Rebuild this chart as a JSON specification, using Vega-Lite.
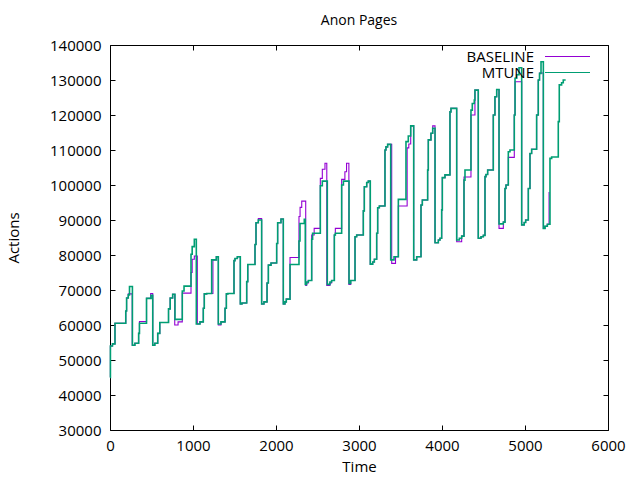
{
  "$schema": "https://vega.github.io/schema/vega-lite/v6.json",
  "width": 498,
  "height": 385,
  "autosize": {"type": "none"},
  "padding": {"left": 110, "top": 45, "right": 32, "bottom": 50},
  "background": "white",
  "config": {
    "font": "Open Sans",
    "view": {"stroke": "black", "strokeWidth": 1},
    "axis": {"grid": false, "domainColor": "black", "tickColor": "black", "labelColor": "black", "titleColor": "black", "labelFontSize": 15, "titleFontSize": 15, "titleFontWeight": "normal", "labelFont": "Open Sans", "titleFont": "Open Sans", "format": "d", "labelFlush": false}
  },
  "title": {"text": "Anon Pages", "fontSize": 14, "fontWeight": "normal", "font": "Open Sans", "color": "black", "offset": 10},
  "datasets": {
    "MTUNE": [
      [0,45000],[5,54000],[30,54600],[60,60500],[190,64000],[200,67700],[220,68600],[235,71000],[270,54200],[300,54800],[345,57600],[355,60500],[440,67600],[495,68500],[515,54200],[540,54800],[575,57600],[600,60700],[705,64600],[725,67700],[755,68800],[783,61600],[871,69700],[892,71100],[976,80200],[990,82400],[1016,84500],[1040,60300],[1084,60900],[1124,64800],[1136,68900],[1165,69000],[1225,78600],[1281,79500],[1305,60300],[1337,60900],[1386,64800],[1402,68900],[1420,69000],[1494,78400],[1506,79000],[1534,79500],[1570,66000],[1590,66300],[1647,72400],[1660,77300],[1747,83000],[1759,89200],[1787,90000],[1827,66000],[1855,66600],[1892,72000],[1908,77100],[1940,77700],[2008,83300],[2020,89200],[2060,90300],[2088,66000],[2108,66600],[2124,67400],[2169,77300],[2277,84000],[2289,89000],[2341,90200],[2353,71600],[2369,72300],[2390,72700],[2430,84500],[2441,86200],[2534,99800],[2558,101100],[2618,71600],[2650,72300],[2670,72700],[2703,85700],[2715,86200],[2791,100000],[2812,101100],[2880,71900],[2900,72700],[2952,85200],[2972,85700],[3052,92600],[3064,99500],[3093,100700],[3112,101100],[3136,77400],[3165,78000],[3185,78800],[3213,86200],[3225,93500],[3245,94000],[3313,110000],[3325,110900],[3345,111600],[3382,78600],[3422,79500],[3474,95900],[3566,112400],[3594,114000],[3623,116900],[3659,78600],[3695,79500],[3747,94300],[3763,95700],[3827,104300],[3835,112900],[3867,114800],[3888,116200],[3916,83500],[3956,84300],[3976,84800],[3996,92900],[4004,102100],[4036,102900],[4096,120900],[4108,121900],[4177,84300],[4209,84800],[4237,85400],[4265,101400],[4277,104300],[4349,121400],[4365,123300],[4389,124300],[4397,127100],[4437,84800],[4470,85200],[4498,85600],[4518,102400],[4530,103000],[4550,104300],[4618,120000],[4638,125200],[4659,127300],[4687,88900],[4739,89400],[4759,99000],[4771,100000],[4799,109500],[4819,110000],[4871,120000],[4880,130500],[4900,131500],[4928,133500],[4960,88600],[4990,89300],[5008,90000],[5040,99000],[5060,109000],[5080,110200],[5140,120000],[5160,130000],[5175,131900],[5193,135200],[5221,87600],[5241,88200],[5269,88800],[5301,107600],[5321,108000],[5401,118100],[5413,128600],[5441,129200],[5461,130000],[5490,130000]
    ],
    "BASELINE": [
      [0,45000],[5,54000],[30,54600],[60,60500],[190,64000],[200,67700],[220,68900],[268,54200],[300,54800],[345,57600],[355,61000],[440,67600],[490,69000],[515,54200],[540,54800],[575,57600],[600,60700],[705,64600],[725,67700],[755,68800],[780,60000],[820,60900],[871,69100],[976,75000],[990,78800],[1016,79700],[1052,60300],[1084,60900],[1124,64800],[1136,68900],[1165,69000],[1240,78600],[1281,79500],[1305,60000],[1337,60900],[1386,64800],[1402,68900],[1420,69000],[1494,78400],[1506,79000],[1534,79500],[1570,66000],[1590,66300],[1647,72400],[1660,77300],[1747,83000],[1759,89200],[1787,90400],[1827,66000],[1855,66600],[1892,72000],[1908,77100],[1940,77700],[2008,83300],[2020,89200],[2060,90300],[2088,66000],[2108,66600],[2124,67400],[2169,79300],[2277,91000],[2290,93600],[2310,95400],[2358,71300],[2369,72000],[2390,72700],[2430,85700],[2460,87600],[2534,101900],[2558,104500],[2590,106200],[2612,71300],[2650,72000],[2670,72700],[2703,85700],[2715,87600],[2791,101600],[2830,103800],[2850,106200],[2878,71600],[2900,72700],[2952,85200],[2972,85700],[3052,92600],[3064,99500],[3093,100700],[3112,101100],[3136,77400],[3165,78000],[3185,78800],[3213,86200],[3225,93500],[3245,94000],[3313,110000],[3325,110900],[3345,111600],[3394,77600],[3440,79500],[3474,94000],[3580,110600],[3600,111700],[3623,116900],[3659,78600],[3695,79500],[3747,94300],[3763,95700],[3827,104300],[3835,112900],[3867,114800],[3888,116900],[3916,83500],[3956,84300],[3976,84800],[3996,92900],[4004,102100],[4036,102900],[4096,120900],[4108,121900],[4177,83800],[4237,85400],[4265,102300],[4349,120000],[4397,127100],[4437,84800],[4470,85200],[4498,85600],[4518,102400],[4530,103000],[4550,104300],[4618,120000],[4638,125200],[4659,127300],[4687,87600],[4739,89400],[4759,99000],[4771,100000],[4799,107900],[4871,120000],[4880,129500],[4960,88600],[4990,89300],[5008,90000],[5040,99000],[5060,109000],[5080,110200],[5140,120000],[5160,130000],[5175,132000],[5221,87600],[5241,88200],[5269,88800],[5290,98000]
    ]
  },
  "layer": [
    {
      "data": {"name": "BASELINE"},
      "transform": [{"calculate": "'BASELINE'", "as": "series"}, {"calculate": "datum[0]", "as": "time"}, {"calculate": "datum[1]", "as": "actions"}],
      "mark": {"type": "line", "interpolate": "step-after", "strokeWidth": 1.1},
      "encoding": {
        "x": {"field": "time", "type": "quantitative", "scale": {"domain": [0, 6000], "nice": false}, "axis": {"title": "Time", "values": [0,1000,2000,3000,4000,5000,6000], "tickSize": -5, "labelPadding": 13, "titlePadding": 6, "domain": false}},
        "y": {"field": "actions", "type": "quantitative", "scale": {"domain": [30000, 140000], "nice": false, "zero": false}, "axis": {"title": "Actions", "values": [30000,40000,50000,60000,70000,80000,90000,100000,110000,120000,130000,140000], "tickSize": -5, "labelPadding": 14, "titlePadding": 28, "domain": false}},
        "color": {"field": "series", "type": "nominal", "scale": {"domain": ["BASELINE", "MTUNE"], "range": ["#9400d3", "#009e73"]}, "legend": {"title": null, "orient": "none", "legendX": 450, "legendY": 4, "padding": 0, "symbolType": "M-5,0H5", "symbolSize": 81, "symbolStrokeWidth": 1.2, "labelAlign": "right", "labelOffset": -41, "labelFontSize": 15, "labelFont": "Open Sans", "labelColor": "black", "rowPadding": 0}}
      }
    },
    {
      "data": {"name": "MTUNE"},
      "transform": [{"calculate": "'MTUNE'", "as": "series"}, {"calculate": "datum[0]", "as": "time"}, {"calculate": "datum[1]", "as": "actions"}],
      "mark": {"type": "line", "interpolate": "step-after", "strokeWidth": 1.6},
      "encoding": {
        "x": {"field": "time", "type": "quantitative", "axis": {"orient": "top", "title": null, "labels": false, "values": [0,1000,2000,3000,4000,5000,6000], "tickSize": -5, "domain": false}},
        "y": {"field": "actions", "type": "quantitative", "axis": {"orient": "right", "title": null, "labels": false, "values": [30000,40000,50000,60000,70000,80000,90000,100000,110000,120000,130000,140000], "tickSize": -5, "domain": false}},
        "color": {"field": "series", "type": "nominal"}
      }
    }
  ],
  "resolve": {"axis": {"x": "independent", "y": "independent"}}
}
